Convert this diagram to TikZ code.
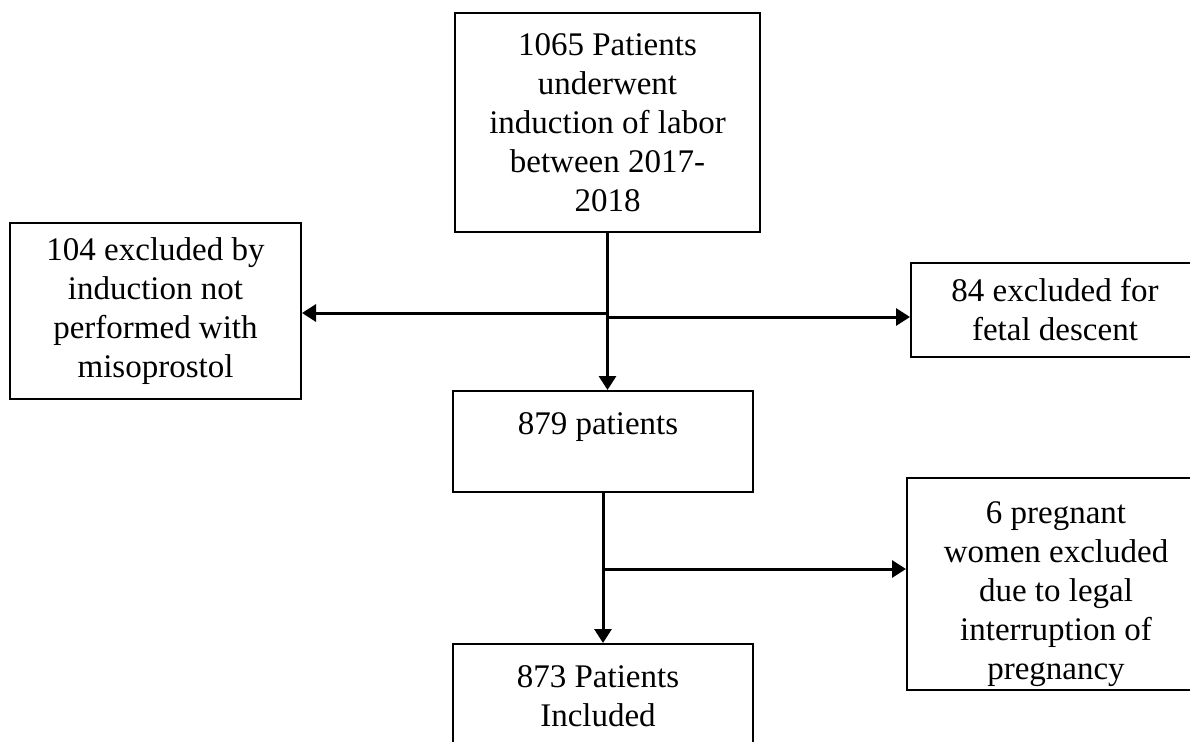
\documentclass[tikz,border=0pt]{standalone}
\usepackage{fontspec}
\setmainfont{Liberation Serif}
\usetikzlibrary{arrows.meta}

\begin{document}
\begin{tikzpicture}[x=1pt, y=-1pt]
        \tikzset{
        flow box/.style={rectangle,draw,line width=2pt,inner sep=0,align=center,font=\fontsize{33}{39}\selectfont},
        flow text/.style={inner sep=0,align=center,anchor=north,font=\fontsize{33}{39}\selectfont},
        flow edge/.style={line width=3pt,-{Triangle[length=14pt,width=17pt]}}
        }
        \path[use as bounding box, clip] (0,0) rectangle (1190,741);

        \node[flow box, minimum width=305pt, minimum height=219pt] (start) at (607.5,122.5)
            {1065 Patients\\underwent\\induction of labor\\between 2017-\\2018};
        \node[flow box, minimum width=291pt, minimum height=176pt] (excl1) at (155.5,311)
            {104 excluded by\\induction not\\performed with\\misoprostol};
        \node[flow box, minimum width=288pt, minimum height=94pt] (excl2) at (1055,310)
            {84 excluded for\\fetal descent};
        \node[flow box, minimum width=300pt, minimum height=101pt] (cohort) at (603,441.5) {};
        \node[flow box, minimum width=298pt, minimum height=212pt] (excl3) at (1056,584) {};
        \node[flow box, minimum width=300pt, minimum height=120pt] (final) at (603,704) {};

        \node[flow text] (cohort text) at (598,412) {879 patients};
        \node[flow text] (excl3 text) at (1056,501)
            {6 pregnant\\women excluded\\due to legal\\interruption of\\pregnancy};
        \node[flow text] (final text) at (598,665.5) {873 Patients\\Included};

        \coordinate (j1) at (607.5,313);
        \coordinate (j2) at (607.5,317);
        \coordinate (j3) at (603,569);

        \draw[flow edge] (start.south) -- (start.south |- cohort.north);
        \draw[flow edge] (j1) -- (j1 -| excl1.east);
        \draw[flow edge] (j2) -- (j2 -| excl2.west);
        \draw[flow edge] (cohort.south) -- (final.north);
        \draw[flow edge] (j3) -- (j3 -| excl3.west);
    \end{tikzpicture}
\end{document}
